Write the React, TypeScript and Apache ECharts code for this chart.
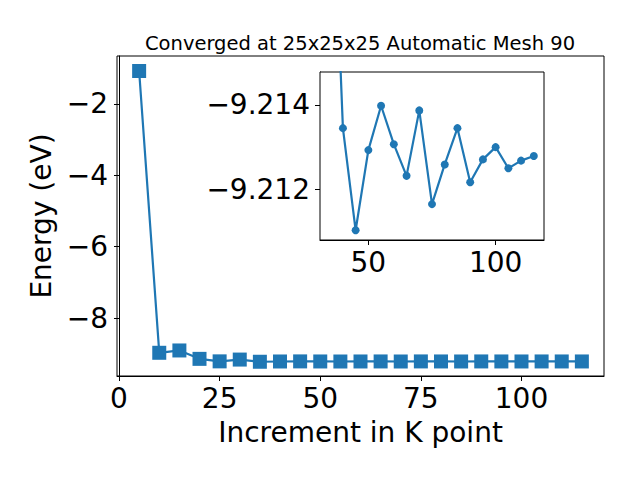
import React, { useEffect, useRef } from "react";
import * as echarts from "echarts";

const kPoints = [5, 10, 15, 20, 25, 30, 35, 40, 45, 50, 55, 60, 65, 70, 75, 80, 85, 90, 95, 100, 105, 110, 115];
const energies = [
  -1.08, -8.97, -8.905, -9.14, -9.21, -9.16, -9.221, -9.21345, -9.21103, -9.21293, -9.21398, -9.21307,
  -9.21232, -9.21387, -9.21165, -9.21259, -9.21345, -9.21217, -9.21271, -9.213, -9.2125, -9.21268, -9.21279,
];
const insetStartIndex = 6;
const xTicks = [0, 25, 50, 75, 100];
const yTicks = [-8, -6, -4, -2];
const insetXTicks = [50, 100];
const insetYTicks = [-9.214, -9.212];

const titleText = "Converged at 25x25x25 Automatic Mesh 90";
const xName = "Increment in K point";
const yName = "Energy (eV)";

const BLUE = "#1f77b4";
const FONT = "DejaVu Sans";

const minus = (s: string) => s.replace("-", "\u2212");

export default function App() {
  const ref = useRef<HTMLDivElement>(null);
  useEffect(() => {
    if (!ref.current) return;
    const chart = echarts.init(ref.current, undefined, { renderer: "svg" });
    const mainData = kPoints.map((k, i) => [k, energies[i]]);
    const insetData = kPoints.slice(insetStartIndex).map((k, i) => [k, energies[i + insetStartIndex]]);
    const axisCommon = {
      axisLine: { show: true, lineStyle: { color: "#000", width: 1 } },
      axisTick: { show: true, inside: false, length: 5, lineStyle: { color: "#000", width: 1 } },
      splitLine: { show: false },
    };
    const labelStyle = { color: "#000", fontSize: 28, fontFamily: FONT };
    chart.setOption({
      animation: false,
      backgroundColor: "#fff",
      title: {
        text: titleText,
        left: 140,
        top: 28,
        textStyle: { fontSize: 19.5, fontWeight: "normal", fontFamily: FONT, color: "#000" },
      },
      grid: [
        { left: 117, right: 36, top: 56, bottom: 104, show: true, borderColor: "#000", borderWidth: 1, backgroundColor: "#fff", containLabel: false },
        { left: 320, right: 96, top: 72, bottom: 240, show: true, borderColor: "#000", borderWidth: 1, backgroundColor: "#fff", containLabel: false, z: 5 },
      ],
      xAxis: [
        {
          type: "value",
          gridIndex: 0,
          min: -0.5,
          max: 120.5,
          ...axisCommon,
          axisTick: { ...axisCommon.axisTick, customValues: xTicks },
          axisLabel: { ...labelStyle, margin: 8, customValues: xTicks, formatter: (v: number) => minus(String(v)) },
          name: xName,
          nameLocation: "middle",
          nameGap: 42,
          nameTextStyle: { fontSize: 28, fontFamily: FONT, color: "#000" },
        },
        {
          type: "value",
          gridIndex: 1,
          min: 31,
          max: 119,
          ...axisCommon,
          axisTick: { ...axisCommon.axisTick, customValues: insetXTicks },
          axisLabel: { ...labelStyle, margin: 8, customValues: insetXTicks, formatter: (v: number) => String(v) },
        },
      ],
      yAxis: [
        {
          type: "value",
          gridIndex: 0,
          min: -9.62,
          max: -0.66,
          ...axisCommon,
          axisTick: { ...axisCommon.axisTick, customValues: yTicks },
          axisLabel: { ...labelStyle, margin: 9, customValues: yTicks, formatter: (v: number) => minus(String(v)) },
          name: yName,
          nameLocation: "middle",
          nameGap: 51,
          nameTextStyle: { fontSize: 28, fontFamily: FONT, color: "#000" },
        },
        {
          type: "value",
          gridIndex: 1,
          inverse: true,
          min: -9.21478,
          max: -9.2108,
          ...axisCommon,
          axisTick: { ...axisCommon.axisTick, customValues: insetYTicks },
          axisLabel: { ...labelStyle, margin: 10, customValues: insetYTicks, formatter: (v: number) => minus(v.toFixed(3)) },
        },
      ],
      series: [
        {
          type: "line",
          xAxisIndex: 0,
          yAxisIndex: 0,
          data: mainData,
          symbol: "rect",
          symbolSize: 14,
          showAllSymbol: true,
          lineStyle: { color: BLUE, width: 2.2 },
          itemStyle: { color: BLUE },
          z: 2,
        },
        {
          type: "line",
          xAxisIndex: 1,
          yAxisIndex: 1,
          data: insetData,
          symbol: "circle",
          symbolSize: 8,
          showAllSymbol: true,
          clip: true,
          lineStyle: { color: BLUE, width: 2.2 },
          itemStyle: { color: BLUE },
          z: 6,
        },
      ],
    });
    return () => chart.dispose();
  }, []);
  return <div ref={ref} style={{ position: "absolute", left: 0, top: 0, width: 640, height: 480 }} />;
}
